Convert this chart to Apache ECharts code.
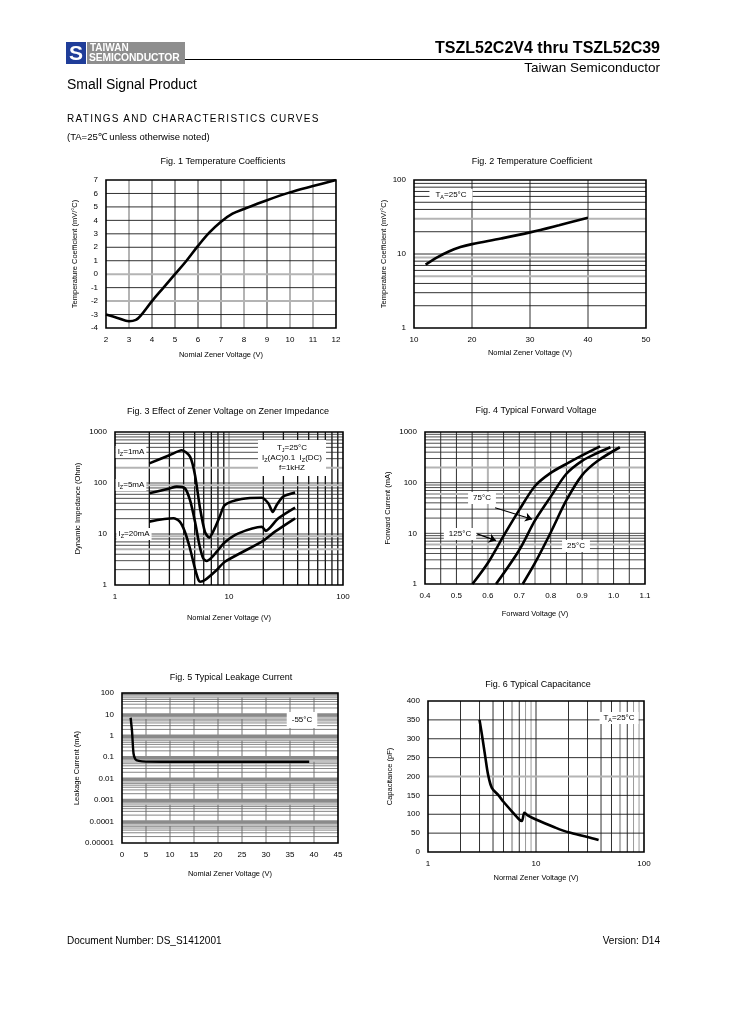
<!DOCTYPE html>
<html><head><meta charset="utf-8">
<script src="https://cdn.jsdelivr.net/npm/echarts@6/dist/echarts.min.js"></script>
<style>
html,body{margin:0;padding:0;background:#fff;}
#c{position:absolute;left:0;top:0;width:729px;height:1032px;}
.t{position:absolute;font-family:"Liberation Sans",Arial,Helvetica,sans-serif;color:#000;white-space:nowrap;}
</style></head><body>
<div id="c"></div>
<div class="t" style="left:66px;top:42px;width:20px;height:22px;background:#1f3d99;color:#fff;font-weight:bold;font-size:21px;line-height:22px;text-align:center;">S</div>
<div class="t" style="left:87px;top:42px;width:98px;height:22px;background:#8e8e8e;"></div>
<div class="t" style="left:90px;top:42px;font-size:10px;line-height:11px;font-weight:bold;color:#fff;">TAIWAN</div>
<div class="t" style="left:89px;top:52px;font-size:10.3px;line-height:12px;font-weight:bold;color:#fff;letter-spacing:-0.1px;">SEMICONDUCTOR</div>
<div class="t" style="left:185px;top:59px;width:475px;height:1px;background:#000;"></div>
<div class="t" style="right:69px;top:38px;font-size:16px;line-height:20px;font-weight:bold;">TSZL52C2V4 thru TSZL52C39</div>
<div class="t" style="right:69px;top:60px;font-size:13.5px;line-height:16px;">Taiwan Semiconductor</div>
<div class="t" style="left:67px;top:75px;font-size:14px;line-height:18px;">Small Signal Product</div>
<div class="t" style="left:67px;top:112px;font-size:10px;line-height:14px;letter-spacing:1.3px;">RATINGS AND CHARACTERISTICS CURVES</div>
<div class="t" style="left:67px;top:131px;font-size:9.5px;line-height:12px;">(TA=25℃ unless otherwise noted)</div>
<div class="t" style="left:67px;top:935px;font-size:10px;line-height:12px;">Document Number: DS_S1412001</div>
<div class="t" style="right:69px;top:935px;font-size:10px;line-height:12px;">Version: D14</div>
<script>
// ---------- data ----------
const f1X = [2, 2.5, 3, 3.3, 3.5, 4, 4.5, 5, 5.5, 6, 6.5, 7, 7.5, 8, 9, 10, 11, 12];
const f1Y = [-3, -3.25, -3.5, -3.4, -3.1, -2, -1, 0, 1, 2.1, 3.1, 3.9, 4.5, 4.85, 5.5, 6.08, 6.55, 7];

const f2X = [12, 14, 16, 18, 20, 25, 30, 35, 40];
const f2Y = [7.2, 9, 10.8, 12.4, 13.6, 16.2, 19.6, 24.5, 31];

const f3X1 = [2, 3, 3.85, 4.55, 5.03, 5.57, 6.15, 6.7, 7.5, 8.3, 9.2, 12.9, 19.4, 22.1, 24.2, 26.2, 29.9, 38];
const f3Y1 = [243, 350, 440, 328, 144, 32, 11, 8.5, 13, 22, 37, 48.5, 51.5, 40, 27, 37, 54, 65];
const f3X5 = [2, 3, 3.48, 4.1, 4.55, 5.03, 5.5, 5.95, 6.37, 7.0, 7.8, 9.2, 12.1, 19.4, 21, 27.1, 38];
const f3Y5 = [63, 78, 85, 79, 46, 17.5, 6.1, 3.3, 2.95, 3.4, 4.5, 6.9, 10.3, 13.9, 11.5, 20.3, 33];
const f3X20 = [2, 3.25, 3.7, 4.1, 4.55, 5.03, 5.4, 5.57, 6.15, 7.8, 9.2, 19.4, 25.3, 38];
const f3Y20 = [17.5, 20.3, 17.5, 11.1, 5.2, 2.1, 1.25, 1.16, 1.25, 1.97, 2.86, 7.1, 11.1, 20.3];

const f4X125 = [0.551, 0.6, 0.65, 0.7, 0.75, 0.8, 0.85, 0.9, 0.957];
const f4Y125 = [1, 2.6, 8.9, 29, 86, 156, 235, 345, 520];
const f4X75 = [0.626, 0.7, 0.75, 0.8, 0.85, 0.9, 0.95, 0.99];
const f4Y75 = [1, 4.7, 18, 53, 150, 270, 390, 500];
const f4X25 = [0.711, 0.75, 0.8, 0.85, 0.9, 0.95, 1.02];
const f4Y25 = [1, 2.6, 10.4, 45, 141, 270, 500];

const f5X = [1.8, 2.1, 2.4, 2.8, 3.5, 5, 10, 20, 30, 39];
const f5Y = [7, 1.5, 0.15, 0.08, 0.068, 0.063, 0.062, 0.062, 0.062, 0.062];

const f6X = [3, 3.2, 3.4, 3.6, 3.9, 4.5, 5, 6, 7, 7.4, 7.8, 8.3, 10, 15, 20, 30, 38];
const f6Y = [350, 300, 250, 205, 170, 150, 133, 107, 86, 82, 104, 98, 86, 65, 52, 40, 32];

const logTicks3 = ['1', '10', '100', '1000'];
const f5YTicks = ['0.00001', '0.0001', '0.001', '0.01', '0.1', '1', '10', '100'];

// annotation arrows (data coords)
const arrow75 = [[0.623, 32], [0.741, 19]];
const arrow125 = [[0.566, 9.75], [0.626, 7.2]];

// ---------- helpers ----------
const FONT = '"Liberation Sans", Arial, Helvetica, sans-serif';
const BLK = {color: '#1a1a1a', width: 0.9};
const GRY = {color: '#b4b4b4', width: 2};

function minor(lo, hi, withDecades) {
  const out = [];
  const e0 = Math.round(Math.log10(lo)), e1 = Math.round(Math.log10(hi));
  for (let e = e0; e < e1; e++) {
    if (withDecades && e > e0) out.push(+Math.pow(10, e).toPrecision(6));
    for (let k = 2; k <= 9; k++) out.push(+(k * Math.pow(10, e)).toPrecision(6));
  }
  return out;
}
function range(a, b, s) { const o = []; for (let v = a; v <= b + 1e-9; v += s) o.push(Math.round(v * 1000) / 1000); return o; }
function has(set) { return v => set.some(s => Math.abs(s - v) < 1e-9); }

// grid lines drawn through the axes' scales with a custom series
function gridSeries(i, xmin, ymin, vVals, vStyle, hVals, hStyle) {
  const data = [], styles = [];
  vVals.forEach(v => { data.push([v, ymin, 0]); styles.push(vStyle(v)); });
  hVals.forEach(v => { data.push([xmin, v, 1]); styles.push(hStyle(v)); });
  return {
    type: 'custom', xAxisIndex: i, yAxisIndex: i, data: data, silent: true, z: 1, animation: false,
    encode: {x: 0, y: 1},
    renderItem: function (params, api) {
      const cs = params.coordSys;
      const p = api.coord([api.value(0), api.value(1)]);
      const st = styles[params.dataIndex];
      const shape = api.value(2) === 0
        ? {x1: p[0], y1: cs.y, x2: p[0], y2: cs.y + cs.height}
        : {x1: cs.x, y1: p[1], x2: cs.x + cs.width, y2: p[1]};
      return {type: 'line', shape: shape, style: {stroke: st.color, lineWidth: st.width}};
    }
  };
}
function curve(i, xs, ys, smooth, extra) {
  return Object.assign({type: 'line', xAxisIndex: i, yAxisIndex: i, data: xs.map((x, k) => [x, ys[k]]),
    showSymbol: false, symbol: 'none', smooth: smooth, lineStyle: {color: '#000', width: 2.6},
    z: 5, animation: false, silent: true}, extra || {});
}
const labelStyle = {fontSize: 8, color: '#000', fontFamily: FONT};
const nameStyle = {fontSize: 7.5, color: '#000', fontFamily: FONT};
function ax(i, o) {
  return Object.assign({gridIndex: i, nameLocation: 'middle', nameTextStyle: nameStyle,
    axisLine: {show: false}, axisTick: {show: false}, splitLine: {show: false}, minorTick: {show: false},
    axisLabel: Object.assign({margin: 8}, labelStyle)}, o);
}

// ---------- grid lines ----------
const g1 = has([3, 8, 10, 11]), g1h = has([0, -2]);
const g2h = has([5, 9, 30]);
const g3h = has([200, 90, 9, 5]);
const g4v = has([0.6, 0.75, 0.95]), g4h = has([200, 60, 6]);
const g6g = has([6, 60]), g6l = has([8, 9, 80, 90]);
function f5Style(v) {
  const k = Math.round(v / Math.pow(10, Math.floor(Math.log10(v) + 1e-9)));
  if (k === 1 || k === 9) return {color: '#8a8a8a', width: 2.6};
  if (k === 8 || k === 7) return {color: '#c0c0c0', width: 2.4};
  return {color: '#666', width: 0.8};
}
const THIN = {color: '#222', width: 0.8};

// ---------- texts ----------
function txt(x, y, text, o) {
  return {type: 'text', x: x, y: y, z: 50, silent: true,
    style: Object.assign({text: text, fontSize: 9, fontFamily: FONT, fill: '#000', align: 'center', verticalAlign: 'middle'}, o || {})};
}
const subRich = {s: {fontSize: 5.5, fontFamily: FONT, fill: '#000', verticalAlign: 'bottom', lineHeight: 10}, n: {fontSize: 8, fontFamily: FONT, fill: '#000', lineHeight: 10}};
function box(x, y, text, o) {
  return txt(x, y, text, Object.assign({fontSize: 8, backgroundColor: '#fff', padding: [2, 3], rich: subRich}, o || {}));
}

const graphic = [
  txt(223, 162, 'Fig. 1 Temperature Coefficients'),
  txt(532, 162, 'Fig. 2 Temperature Coefficient'),
  txt(228, 412, 'Fig. 3 Effect of Zener Voltage on Zener Impedance'),
  txt(536, 411, 'Fig. 4 Typical Forward Voltage'),
  txt(231, 678, 'Fig. 5 Typical Leakage Current'),
  txt(538, 685, 'Fig. 6 Typical Capacitance'),
  box(451, 195, '{n|T}{s|A}{n|=25°C}', {padding: [1, 6]}),
  box(131, 452, '{n|I}{s|Z}{n|=1mA}', {padding: [1, 2]}),
  box(131, 485, '{n|I}{s|Z}{n|=5mA}', {padding: [1, 2]}),
  box(134, 534, '{n|I}{s|Z}{n|=20mA}', {padding: [1, 2]}),
  box(292, 458, '{n|T}{s|J}{n|=25°C}\n{n|I}{s|Z}{n|(AC)0.1  I}{s|Z}{n|(DC)}\n{n|f=1kHZ}', {padding: [3, 4]}),
  box(482, 498, '{n|75°C}', {padding: [1, 5]}),
  box(460, 534, '{n|125°C}', {padding: [1, 5]}),
  box(576, 546, '{n|25°C}', {padding: [1, 5]}),
  box(302, 720, '{n|-55°C}', {padding: [3, 5]}),
  box(619, 718, '{n|T}{s|A}{n|=25°C}', {padding: [1, 4]})
];

// ---------- option ----------
const grids = [
  {left: 106, top: 180, width: 230, height: 148},
  {left: 414, top: 180, width: 232, height: 148},
  {left: 115, top: 432, width: 228, height: 153},
  {left: 425, top: 432, width: 220, height: 152},
  {left: 122, top: 693, width: 216, height: 150},
  {left: 428, top: 701, width: 216, height: 151}
].map(g => Object.assign({show: true, borderColor: '#000', borderWidth: 1.6, backgroundColor: 'rgba(0,0,0,0)', containLabel: false, outerBoundsMode: 'none', z: 3}, g));

const logFmt = v => logTicks3[Math.round(Math.log10(v))];

const arrowML = pts => ({silent: true, symbol: ['none', 'arrow'], symbolSize: 7, label: {show: false}, animation: false,
  lineStyle: {color: '#000', width: 1.2, type: 'solid'}, data: [[{coord: pts[0]}, {coord: pts[1]}]]});

const option = {
  backgroundColor: '#fff',
  animation: false,
  textStyle: {fontFamily: FONT},
  grid: grids,
  xAxis: [
    ax(0, {type: 'value', min: 2, max: 12, interval: 1, name: 'Nomial Zener Voltage (V)', nameGap: 23}),
    ax(1, {type: 'value', min: 10, max: 50, interval: 10, name: 'Nomial Zener Voltage (V)', nameGap: 21}),
    ax(2, {type: 'log', logBase: 10, min: 1, max: 100, name: 'Nomial Zener Voltage (V)', nameGap: 29, axisLabel: Object.assign({margin: 8, formatter: logFmt}, labelStyle)}),
    ax(3, {type: 'value', min: 0.4, max: 1.1, interval: 0.1, name: 'Forward Voltage (V)', nameGap: 26, axisLabel: Object.assign({margin: 8, formatter: v => v.toFixed(1)}, labelStyle)}),
    ax(4, {type: 'value', min: 0, max: 45, interval: 5, name: 'Nomial Zener Voltage (V)', nameGap: 27}),
    ax(5, {type: 'log', logBase: 10, min: 1, max: 100, name: 'Normal Zener Voltage (V)', nameGap: 22, axisLabel: Object.assign({margin: 8, formatter: logFmt}, labelStyle)})
  ],
  yAxis: [
    ax(0, {type: 'value', min: -4, max: 7, interval: 1, name: 'Temperature Coefficient (mV/°C)', nameGap: 27}),
    ax(1, {type: 'log', logBase: 10, min: 1, max: 100, name: 'Temperature Coefficient (mV/°C)', nameGap: 26, axisLabel: Object.assign({margin: 8, formatter: logFmt}, labelStyle)}),
    ax(2, {type: 'log', logBase: 10, min: 1, max: 1000, name: 'Dynamic Impedance (Ohm)', nameGap: 33, axisLabel: Object.assign({margin: 8, formatter: logFmt}, labelStyle)}),
    ax(3, {type: 'log', logBase: 10, min: 1, max: 1000, name: 'Forward Current (mA)', nameGap: 33, axisLabel: Object.assign({margin: 8, formatter: logFmt}, labelStyle)}),
    ax(4, {type: 'log', logBase: 10, min: 0.00001, max: 100, name: 'Leakage Current (mA)', nameGap: 40, axisLabel: Object.assign({margin: 8, formatter: v => f5YTicks[Math.round(Math.log10(v)) + 5]}, labelStyle)}),
    ax(5, {type: 'value', min: 0, max: 400, interval: 50, name: 'Capacitance (pF)', nameGap: 34})
  ],
  series: [
    gridSeries(0, 2, -4, range(3, 11, 1), v => g1(v) ? GRY : BLK, range(-3, 6, 1), v => g1h(v) ? GRY : BLK),
    gridSeries(1, 10, 1, [20, 30, 40], () => BLK, minor(1, 100, true), v => g2h(v) ? GRY : BLK),
    gridSeries(2, 1, 1, minor(1, 100, false).concat([10]), v => v === 10 ? {color: '#aaa', width: 1.5} : {color: '#111', width: 1.3},
      minor(1, 1000, true), v => g3h(v) ? GRY : THIN),
    gridSeries(3, 0.4, 1, range(0.45, 1.05, 0.05), v => g4v(v) ? GRY : BLK, minor(1, 1000, true), v => g4h(v) ? GRY : THIN),
    gridSeries(4, 0, 0.00001, range(5, 40, 5), () => ({color: '#666', width: 0.9}), minor(0.00001, 100, true), f5Style),
    gridSeries(5, 1, 0, minor(1, 100, true), v => g6g(v) ? GRY : (g6l(v) ? {color: '#999', width: 1} : BLK),
      range(50, 350, 50), v => v === 200 ? GRY : BLK),
    curve(0, f1X, f1Y, 0.35),
    curve(1, f2X, f2Y, 0.35),
    curve(2, f3X1, f3Y1, 0.25),
    curve(2, f3X5, f3Y5, 0.25),
    curve(2, f3X20, f3Y20, 0.25),
    curve(3, f4X125, f4Y125, 0.3, {markLine: arrowML(arrow125)}),
    curve(3, f4X75, f4Y75, 0.3, {markLine: arrowML(arrow75)}),
    curve(3, f4X25, f4Y25, 0.3),
    curve(4, f5X, f5Y, 0.25, {lineStyle: {color: '#000', width: 2.4}}),
    curve(5, f6X, f6Y, 0.3)
  ],
  graphic: graphic
};

const chart = echarts.init(document.getElementById('c'), null, {renderer: 'canvas', width: 729, height: 1032});
chart.setOption(option);
</script>
</body></html>
